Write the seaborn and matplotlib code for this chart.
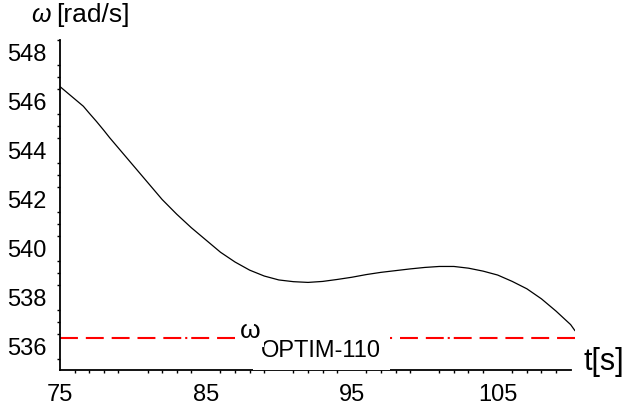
import matplotlib
matplotlib.use("Agg")
import matplotlib.pyplot as plt
import seaborn as sns
import pandas as pd
from matplotlib.ticker import MultipleLocator, FixedLocator

# ---- data ----
t_values = [75, 76, 76.6, 77, 77.5, 78, 78.4, 79, 80, 81, 82, 83, 84, 84.5,
            85, 86, 87, 88, 89, 90, 91, 92, 93, 94, 95, 96, 97, 98, 99,
            100, 101, 102, 103, 104, 105, 106, 107, 108, 109, 110, 110.3]
omega_values = [546.6, 546.1, 545.8, 545.52, 545.18, 544.82, 544.52, 544.1,
                543.4, 542.7, 542.0, 541.4, 540.85, 540.6, 540.35, 539.85,
                539.45, 539.12, 538.88, 538.72, 538.65, 538.62, 538.66,
                538.74, 538.83, 538.94, 539.03, 539.1, 539.17, 539.23,
                539.27, 539.27, 539.2, 539.08, 538.92, 538.66, 538.36,
                537.95, 537.45, 536.9, 536.65]
omega_optim = 536.35
x_tick_labels = [75, 85, 95, 105]
y_tick_labels = [536, 538, 540, 542, 544, 546, 548]

df = pd.DataFrame({"t": t_values, "omega": omega_values})
ref = pd.DataFrame({"t": [t_values[0], t_values[-1]],
                    "omega": [omega_optim, omega_optim]})

sns.set_theme(style="white")
plt.rcParams["font.family"] = ["Liberation Sans", "DejaVu Sans"]
plt.rcParams["text.color"] = "black"

W, H = 624, 407
fig = plt.figure(figsize=(W / 100, H / 100), dpi=100)
ax = fig.add_axes([60 / W, (H - 370) / H, (575 - 60) / W, (370 - 40) / H])

sns.lineplot(data=ref, x="t", y="omega", ax=ax, color="#ff0000",
             linewidth=1.5, dashes=False, zorder=2)
ax.lines[-1].set_dashes([8.6, 3.8, 8.6, 3.8, 8.6, 3.8, 8.6, 3.8, 8.6, 1.9,
                         1.0, 1.9])
sns.lineplot(data=df, x="t", y="omega", ax=ax, color="black",
             linewidth=0.9, zorder=3)

ax.set_xlim(75, 110.3)
ax.set_ylim(535.05, 548.5)
ax.spines["top"].set_visible(False)
ax.spines["right"].set_visible(False)
ax.spines["bottom"].set_bounds(75, 110)
for s in ("left", "bottom"):
    ax.spines[s].set_linewidth(1.3)
    ax.spines[s].set_color("black")

ax.set_xticks(range(75, 111, 5))
ax.set_xticklabels([str(v) if v in x_tick_labels else "" for v in range(75, 111, 5)])
ax.xaxis.set_minor_locator(MultipleLocator(1))
ax.yaxis.set_major_locator(FixedLocator(y_tick_labels))
ax.yaxis.set_minor_locator(MultipleLocator(0.5))
ax.set_yticklabels([str(v) for v in y_tick_labels])

ax.tick_params(axis="both", which="major", direction="out", length=5,
               width=1.2, color="black", labelsize=17, labelcolor="black")
ax.tick_params(axis="both", which="minor", direction="out", length=2.5,
               width=1.0, color="black")
ax.tick_params(axis="x", which="major", pad=5)
ax.tick_params(axis="y", which="major", pad=5)
ax.tick_params(axis="x", which="minor", bottom=True)
ax.tick_params(axis="y", which="minor", left=True)
ax.set_xlabel("")
ax.set_ylabel("")
ax.grid(False)

# texts
fig.text(31 / W, 1 - 15 / H, "ω", fontsize=18, va="center", ha="left",
         fontstyle="italic")
fig.text(56 / W, 1 - 15 / H, "[rad/s]", fontsize=19, va="center", ha="left")
fig.text(583 / W, 1 - 362 / H, "t[s]", fontsize=22, va="center", ha="left")

ax.text(88.8, omega_optim - 0.52, "OPTIM-110", fontsize=17, va="center",
        ha="left", bbox=dict(boxstyle="square,pad=0.35", fc="white", ec="none"),
        zorder=4)
ax.text(87.3, omega_optim + 0.3, "ω", fontsize=19, va="center", ha="left",
        bbox=dict(boxstyle="square,pad=0.15", fc="white", ec="none"), zorder=5)

fig.savefig("out.png", dpi=100)
